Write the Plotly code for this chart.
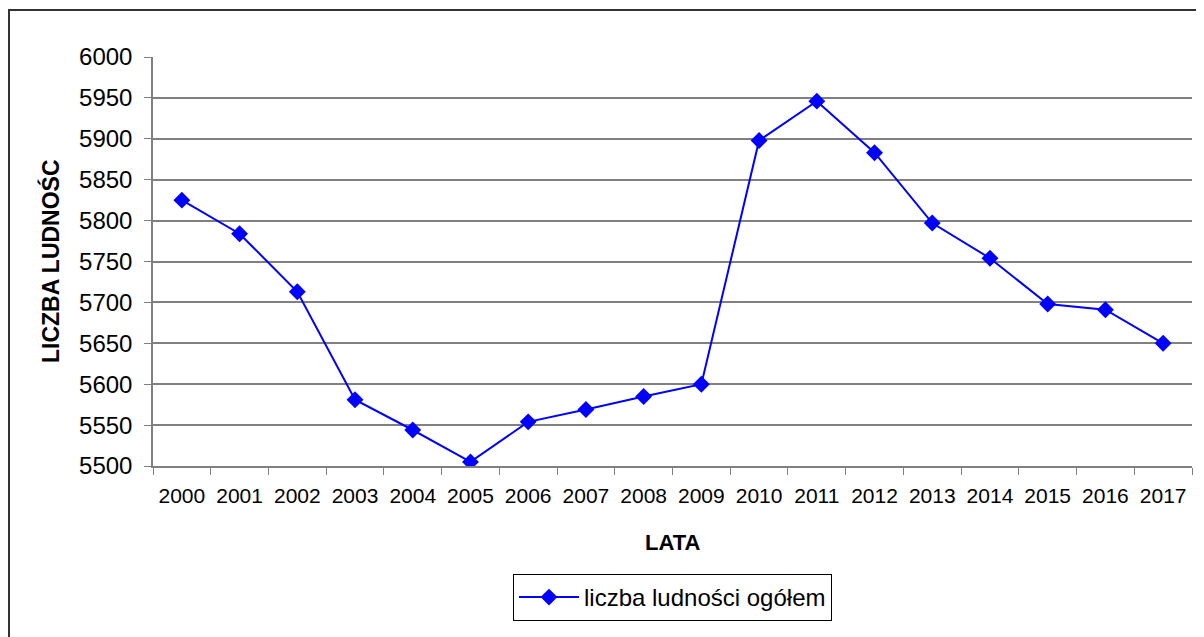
import plotly.graph_objects as go

years = ["2000", "2001", "2002", "2003", "2004", "2005", "2006", "2007", "2008",
         "2009", "2010", "2011", "2012", "2013", "2014", "2015", "2016", "2017"]
population = [5825, 5784, 5713, 5581, 5544, 5505, 5554, 5569, 5585,
              5600, 5898, 5946, 5883, 5797, 5754, 5698, 5691, 5650]
series_name = "liczba ludności ogółem"
x_title = "LATA"
y_title = "LICZBA LUDNOŚC"
y_ticks = [5500, 5550, 5600, 5650, 5700, 5750, 5800, 5850, 5900, 5950, 6000]

# page body has an 8px margin, so work in page pixels shifted by 8
OFF = 8
W, H = 1204 - OFF, 637 - OFF
L, T = 153 - OFF, 57 - OFF
R = W - (1192 - OFF)
B = H - (466 - OFF)
pw, ph = W - L - R, H - T - B

def px(x):
    return (x - OFF - L) / pw

def py(y):
    return (H - B - (y - OFF)) / ph

fig = go.Figure()
fig.add_trace(go.Scatter(
    x=years, y=population, name=series_name, mode="lines+markers",
    line=dict(color="#0000FF", width=2),
    marker=dict(symbol="diamond", size=13, color="#0000FF"),
    showlegend=True,
))

font_family = "Liberation Sans, Arial, sans-serif"

fig.update_layout(
    width=W, height=H,
    margin=dict(l=L, r=R, t=T, b=B, autoexpand=False),
    paper_bgcolor="white", plot_bgcolor="white",
    font=dict(family=font_family, color="black"),
    showlegend=True,
    legend=dict(
        orientation="h", x=0.5, xanchor="center", y=py(574), yanchor="top",
        bordercolor="black", borderwidth=1, bgcolor="white",
        font=dict(size=24, family=font_family), itemwidth=60,
    ),
    xaxis=dict(
        type="category", range=[-0.5, 17.5], tickson="boundaries",
        ticks="outside", ticklen=7, tickcolor="#808080", tickwidth=1,
        showline=True, linecolor="#808080", linewidth=1.5,
        showgrid=False, zeroline=False, ticklabelstandoff=10,
        tickfont=dict(size=21), fixedrange=True,
    ),
    yaxis=dict(
        range=[5500, 6000], tickvals=y_ticks,
        ticks="outside", ticklen=7, tickcolor="#808080", tickwidth=1,
        showline=True, linecolor="#808080", linewidth=1.5,
        showgrid=True, gridcolor="#808080", gridwidth=1.5,
        zeroline=False, tickfont=dict(size=24), fixedrange=True,
        ticklabelstandoff=7,
    ),
    annotations=[
        dict(text="<b>" + x_title + "</b>", xref="paper", yref="paper",
             x=0.5, y=py(542), xanchor="center", yanchor="middle",
             showarrow=False, font=dict(size=22)),
        dict(text="<b>" + y_title + "</b>", xref="paper", yref="paper",
             x=px(50), y=py(261), xanchor="center", yanchor="middle",
             textangle=-90, showarrow=False, font=dict(size=23)),
    ],
    shapes=[
        dict(type="rect", xref="paper", yref="paper",
             x0=px(9), x1=px(1215), y0=py(650), y1=py(10),
             line=dict(color="#333333", width=2), layer="below"),
    ],
)

fig.write_html("out.html")
